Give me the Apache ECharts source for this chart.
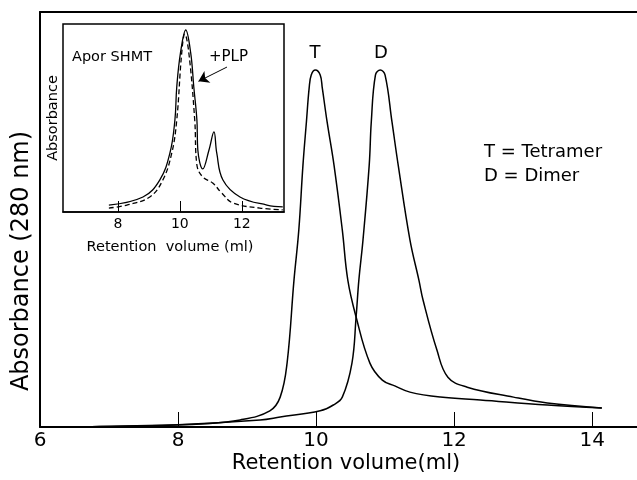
<!DOCTYPE html>
<html>
<head>
<meta charset="utf-8">
<script src="https://cdn.jsdelivr.net/npm/echarts@6/dist/echarts.min.js"></script>
<style>
  html, body { margin: 0; padding: 0; background: #fff; }
  #chart { width: 637px; height: 480px; }
</style>
</head>
<body>
<div id="chart"></div>
<script>
// main chromatogram: retention volume (ml) vs absorbance (relative units)
const tetramer = [
  [6.5, 0], [6.87, 0.1], [7.93, 0.5], [8.32, 0.7], [8.9, 1.7], [9.33, 3.9],
  [9.48, 7.2], [9.58, 15.4], [9.68, 35.4], [9.75, 47.5], [9.81, 63.1],
  [9.86, 73.5], [9.9, 81.7], [9.93, 84.8], [9.99, 86.0], [10.06, 84.8],
  [10.09, 81.7], [10.16, 73.5], [10.26, 63.1], [10.38, 47.5], [10.46, 35.4],
  [10.58, 26.5], [10.78, 15.4], [10.96, 11.3], [11.14, 9.9], [11.36, 8.4],
  [11.8, 7.2], [12.38, 6.5], [13.35, 5.3], [14.14, 4.6]
];
const dimer = [
  [6.5, 0], [6.87, 0.1], [7.93, 0.5], [9.19, 1.7], [9.48, 2.4], [10.06, 3.9],
  [10.25, 5.3], [10.38, 7.2], [10.52, 15.4], [10.58, 26.5], [10.62, 35.4],
  [10.68, 45.1], [10.77, 63.1], [10.8, 73.5], [10.86, 84.8], [10.93, 86.0],
  [11.0, 84.8], [11.1, 73.5], [11.19, 63.1], [11.36, 45.1], [11.49, 35.4],
  [11.55, 30.6], [11.75, 18.6], [11.91, 12.0], [12.19, 9.6], [12.86, 7.2],
  [13.35, 5.8], [14.14, 4.6]
];

// inset: apo-SHMT with PLP (solid) and without (dashed)
const insetPlp = [
  [7.71, 3.7], [8.81, 8.0], [9.35, 17.0], [9.68, 31.4], [9.84, 48.9],
  [9.9, 66.5], [10.02, 84.6], [10.19, 96.8], [10.35, 84.6], [10.45, 66.5],
  [10.55, 48.9], [10.58, 33.0], [10.74, 22.9], [10.94, 33.0], [11.1, 42.6],
  [11.19, 31.4], [11.39, 17.0], [11.94, 8.0], [12.81, 3.7], [13.32, 2.7]
];
const insetApo = [
  [7.71, 2.1], [8.29, 3.7], [9.03, 8.0], [9.45, 17.0], [9.74, 31.4],
  [9.9, 48.9], [10.06, 84.6], [10.16, 94.7], [10.29, 84.6], [10.48, 48.9],
  [10.55, 25.0], [10.74, 18.6], [11.06, 15.4], [11.35, 10.1], [11.71, 4.8],
  [12.58, 2.1], [13.32, 1.1]
];

const mainTicks = [6, 8, 10, 12, 14];
const insetTicks = [8, 10, 12];

const chart = echarts.init(document.getElementById("chart"));
const font = "'DejaVu Sans'";

const curve = (data, xi, yi, extra) => Object.assign({
  type: "line", xAxisIndex: xi, yAxisIndex: yi, data: data,
  showSymbol: false, smooth: 0.4,
  lineStyle: { color: "#000", width: 1.5 },
}, extra);

const option = {
  backgroundColor: "#fff",
  animation: false,
  grid: [
    { left: 40, top: 12, right: 0, height: 415, show: false },
    {
      left: 63, top: 24, width: 221, height: 188, show: true,
      backgroundColor: "#fff", borderColor: "#000", borderWidth: 1.5, z: 5,
    },
  ],
  xAxis: [
    {
      type: "value", gridIndex: 0, min: 6, max: 14.65,
      splitLine: { show: false },
      axisLine: { lineStyle: { color: "#000", width: 2 } },
      axisTick: { inside: true, length: 15, customValues: [8, 10, 12, 14], lineStyle: { color: "#000", width: 1 } },
      axisLabel: {
        customValues: mainTicks, color: "#000", fontSize: 20,
        fontFamily: font, margin: 4,
      },
    },
    {
      type: "value", gridIndex: 0, min: 6, max: 14.65, position: "top",
      splitLine: { show: false },
      axisLine: { lineStyle: { color: "#000", width: 2 } },
      axisTick: { show: false }, axisLabel: { show: false },
    },
    {
      type: "value", gridIndex: 1, min: 6.23, max: 13.36,
      splitLine: { show: false },
      axisLine: { lineStyle: { color: "#000", width: 1.5 } },
      axisTick: { inside: true, length: 11, customValues: insetTicks, lineStyle: { color: "#000", width: 1 } },
      axisLabel: {
        customValues: insetTicks, color: "#000", fontSize: 14,
        fontFamily: font, margin: 5,
      },
      z: 6,
    },
  ],
  yAxis: [
    {
      type: "value", gridIndex: 0, min: 0, max: 100,
      splitLine: { show: false },
      axisLine: { show: true, lineStyle: { color: "#000", width: 2 } },
      axisTick: { show: false }, axisLabel: { show: false },
    },
    {
      type: "value", gridIndex: 1, min: 0, max: 100,
      splitLine: { show: false },
      axisLine: { show: false }, axisTick: { show: false },
      axisLabel: { show: false },
    },
  ],
  series: [
    curve(tetramer, 0, 0),
    curve(dimer, 0, 0),
    curve(insetPlp, 2, 1, {
      z: 7,
      lineStyle: { color: "#000", width: 1.3 },
      markLine: {
        silent: true, symbol: ["none", "arrow"], symbolSize: 10,
        label: { show: false },
        lineStyle: { color: "#000", width: 1, type: "solid" },
        data: [[{ coord: [11.52, 77.1] }, { coord: [10.6, 69.5] }]],
      },
    }),
    curve(insetApo, 2, 1, {
      z: 7,
      lineStyle: { color: "#000", width: 1.3, type: [5, 3] },
    }),
  ],
  graphic: [
    {
      type: "text", x: 346, y: 464,
      style: {
        text: "Retention volume(ml)", font: `21px ${font}`, fill: "#000",
        align: "center", verticalAlign: "middle",
      },
    },
    {
      type: "text", x: 22, y: 261, rotation: Math.PI / 2,
      style: {
        text: "Absorbance (280 nm)", font: `24px ${font}`, fill: "#000",
        align: "center", verticalAlign: "middle",
      },
    },
    {
      type: "text", x: 315, y: 53,
      style: { text: "T", font: `18px ${font}`, fill: "#000", align: "center", verticalAlign: "middle" },
    },
    {
      type: "text", x: 381, y: 53,
      style: { text: "D", font: `18px ${font}`, fill: "#000", align: "center", verticalAlign: "middle" },
    },
    {
      type: "text", x: 484, y: 152,
      style: { text: "T = Tetramer", font: `18px ${font}`, fill: "#000", verticalAlign: "middle" },
    },
    {
      type: "text", x: 484, y: 176,
      style: { text: "D = Dimer", font: `18px ${font}`, fill: "#000", verticalAlign: "middle" },
    },
    {
      type: "text", x: 72, y: 57, z: 10,
      style: { text: "Apor SHMT", font: `14.5px ${font}`, fill: "#000", verticalAlign: "middle" },
    },
    {
      type: "text", x: 209, y: 57, z: 10,
      style: { text: "+PLP", font: `15px ${font}`, fill: "#000", verticalAlign: "middle" },
    },
    {
      type: "text", x: 53, y: 118, rotation: Math.PI / 2, z: 10,
      style: {
        text: "Absorbance", font: `14.5px ${font}`, fill: "#000",
        align: "center", verticalAlign: "middle",
      },
    },
    {
      type: "text", x: 170, y: 247, z: 10,
      style: {
        text: "Retention  volume (ml)", font: `14.5px ${font}`, fill: "#000",
        align: "center", verticalAlign: "middle",
      },
    },
  ],
};

chart.setOption(option);
</script>
</body>
</html>
